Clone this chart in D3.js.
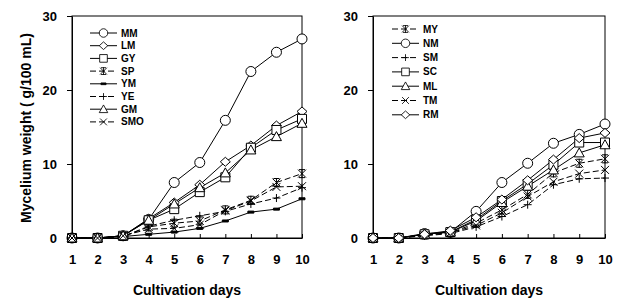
<!DOCTYPE html>
<html>
<head>
<meta charset="utf-8">
<script src="https://cdn.jsdelivr.net/npm/d3@7"></script>
<style>
  body { margin: 0; background: #fff; }
  svg { font-family: "Liberation Sans", Arial, sans-serif; }
  .tick text { font-weight: bold; font-size: 13px; }
  .axis path, .axis line { stroke: #000; }
</style>
</head>
<body>
<div id="chart"></div>
<script>
// days on the x axis
const days = [1, 2, 3, 4, 5, 6, 7, 8, 9, 10];
const yTicks = [0, 10, 20, 30];

// left panel series (g/100 mL)
const MM  = [0, 0, 0.3, 2.5, 7.5, 10.2, 15.9, 22.5, 25.1, 26.9];
const LM  = [0, 0, 0.3, 2.6, 4.8, 7.2, 10.3, 12.5, 15.2, 17.1];
const GY  = [0, 0, 0.3, 2.4, 3.9, 6.2, 8.2, 12.2, 14.6, 16.1];
const SP  = [0, 0, 0.2, 1.5, 2.0, 2.3, 3.8, 5.1, 7.5, 8.7];
const YM  = [0, 0, 0.2, 0.5, 0.8, 1.3, 2.3, 3.5, 3.9, 5.3];
const YE  = [0, 0, 0.2, 1.6, 2.4, 3.0, 3.6, 4.6, 5.4, 6.8];
const GM  = [0, 0, 0.3, 2.4, 4.6, 6.8, 8.8, 11.9, 13.7, 15.5];
const SMO = [0, 0, 0.3, 1.2, 1.3, 1.8, 3.7, 5.0, 6.9, 7.0];

// right panel series
const MY = [0, 0, 0.4, 0.7, 2.0, 3.8, 5.9, 8.8, 10.1, 10.7];
const NM = [0, 0, 0.6, 0.8, 3.6, 7.5, 10.1, 12.8, 14.0, 15.4];
const SM = [0, 0, 0.3, 0.6, 1.5, 2.9, 4.5, 7.2, 8.0, 8.1];
const SC = [0, 0, 0.5, 0.8, 2.5, 5.0, 7.3, 9.9, 12.9, 12.9];
const ML = [0, 0, 0.5, 0.8, 2.3, 4.8, 7.0, 9.2, 11.5, 12.6];
const TM = [0, 0, 0.4, 0.7, 1.7, 3.4, 5.6, 7.6, 8.7, 9.2];
const RM = [0, 0, 0.5, 1.0, 2.8, 5.2, 7.8, 10.6, 13.5, 14.2];

const leftSeries = [
  {name: "MM", values: MM, mark: "circle", dash: false},
  {name: "LM", values: LM, mark: "diamond", dash: false},
  {name: "GY", values: GY, mark: "square", dash: false},
  {name: "SP", values: SP, mark: "asterisk", dash: true},
  {name: "YM", values: YM, mark: "dot", dash: false},
  {name: "YE", values: YE, mark: "plus", dash: true},
  {name: "GM", values: GM, mark: "triangle", dash: false},
  {name: "SMO", values: SMO, mark: "x", dash: true}
];
const rightSeries = [
  {name: "MY", values: MY, mark: "asterisk", dash: true},
  {name: "NM", values: NM, mark: "circle", dash: false},
  {name: "SM", values: SM, mark: "plus", dash: true},
  {name: "SC", values: SC, mark: "square", dash: false},
  {name: "ML", values: ML, mark: "triangle", dash: false},
  {name: "TM", values: TM, mark: "x", dash: true},
  {name: "RM", values: RM, mark: "diamond", dash: false}
];

const W = 622, H = 301;
const svg = d3.select("#chart").append("svg")
  .attr("width", W).attr("height", H);

// marker paths centred on 0,0
function markPath(type) {
  switch (type) {
    case "circle": return "M5,0A5,5 0 1,1 -5,0A5,5 0 1,1 5,0Z";
    case "diamond": return "M0,-4.5L5,0L0,4.5L-5,0Z";
    case "square": return "M-4.5,-4.5H4.5V4.5H-4.5Z";
    case "triangle": return "M0,-5L5,4L-5,4Z";
    case "x": return "M-4,-4L4,4M-4,4L4,-4";
    case "plus": return "M-4,0H4M0,-4V4";
    case "asterisk": return "M-4,-4L4,4M-4,4L4,-4M0,-4.5V4.5M-3,-4H3M-3,4H3";
    case "dot": return "M-3,-1H3V1H-3Z";
  }
}
function markFill(type) {
  if (type === "dot") return "#000";
  if (type === "x" || type === "plus" || type === "asterisk") return "none";
  return "#fff";
}

function drawPanel(cfg) {
  const x = d3.scaleLinear().domain([1, 10]).range([cfg.x0, cfg.x1]);
  const y = d3.scaleLinear().domain([0, 30]).range([238, 16]);
  const g = svg.append("g");

  // frame
  g.append("rect")
    .attr("x", cfg.x0).attr("y", 16)
    .attr("width", cfg.x1 - cfg.x0).attr("height", 238 - 16)
    .attr("fill", "none").attr("stroke", "#000").attr("stroke-width", 1);

  g.append("g").attr("class", "axis")
    .attr("transform", `translate(0,238)`)
    .call(d3.axisBottom(x).tickValues(days).tickFormat(d3.format("d"))
      .tickSizeInner(-4).tickSizeOuter(0).tickPadding(17));

  g.append("g").attr("class", "axis")
    .attr("transform", `translate(${cfg.x0},0)`)
    .call(d3.axisLeft(y).tickValues(yTicks).tickSizeInner(5).tickSizeOuter(0).tickPadding(10));

  const line = d3.line().x((d, i) => x(days[i])).y(d => y(d));

  cfg.series.forEach(s => {
    g.append("path")
      .attr("d", line(s.values))
      .attr("fill", "none").attr("stroke", "#000").attr("stroke-width", 1)
      .attr("stroke-dasharray", s.dash ? "6,3" : null);
  });
  cfg.series.forEach(s => {
    g.selectAll(null).data(s.values).enter().append("path")
      .attr("transform", (d, i) => `translate(${x(days[i])},${y(d)})`)
      .attr("d", markPath(s.mark))
      .attr("fill", markFill(s.mark))
      .attr("stroke", "#000").attr("stroke-width", 1);
  });

  // legend
  const lg = g.append("g");
  cfg.series.forEach((s, i) => {
    const ly = cfg.legY + i * cfg.legStep;
    lg.append("line")
      .attr("x1", cfg.legX).attr("x2", cfg.legX + 27)
      .attr("y1", ly).attr("y2", ly)
      .attr("stroke", "#000").attr("stroke-width", 1)
      .attr("stroke-dasharray", s.dash ? "6,3" : null);
    lg.append("path")
      .attr("transform", `translate(${cfg.legX + 13.5},${ly}) scale(0.85)`)
      .attr("d", markPath(s.mark))
      .attr("fill", markFill(s.mark))
      .attr("stroke", "#000").attr("stroke-width", 1);
    lg.append("text")
      .attr("x", cfg.legX + 31).attr("y", ly).attr("dy", "0.35em")
      .attr("font-size", 10).attr("font-weight", "bold")
      .text(s.name);
  });

  svg.append("text")
    .attr("x", (cfg.x0 + cfg.x1) / 2).attr("y", 295)
    .attr("text-anchor", "middle")
    .attr("font-size", 14).attr("font-weight", "bold")
    .text("Cultivation days");
}

drawPanel({x0: 72, x1: 302, series: leftSeries, legX: 90, legY: 33, legStep: 12.7});
drawPanel({x0: 373, x1: 605, series: rightSeries, legX: 392, legY: 29, legStep: 14.3});

svg.append("text")
  .attr("transform", "translate(31,128) rotate(-90)")
  .attr("text-anchor", "middle")
  .attr("font-size", 14).attr("font-weight", "bold")
  .text("Mycelium weight ( g/100 mL)");
</script>
</body>
</html>
